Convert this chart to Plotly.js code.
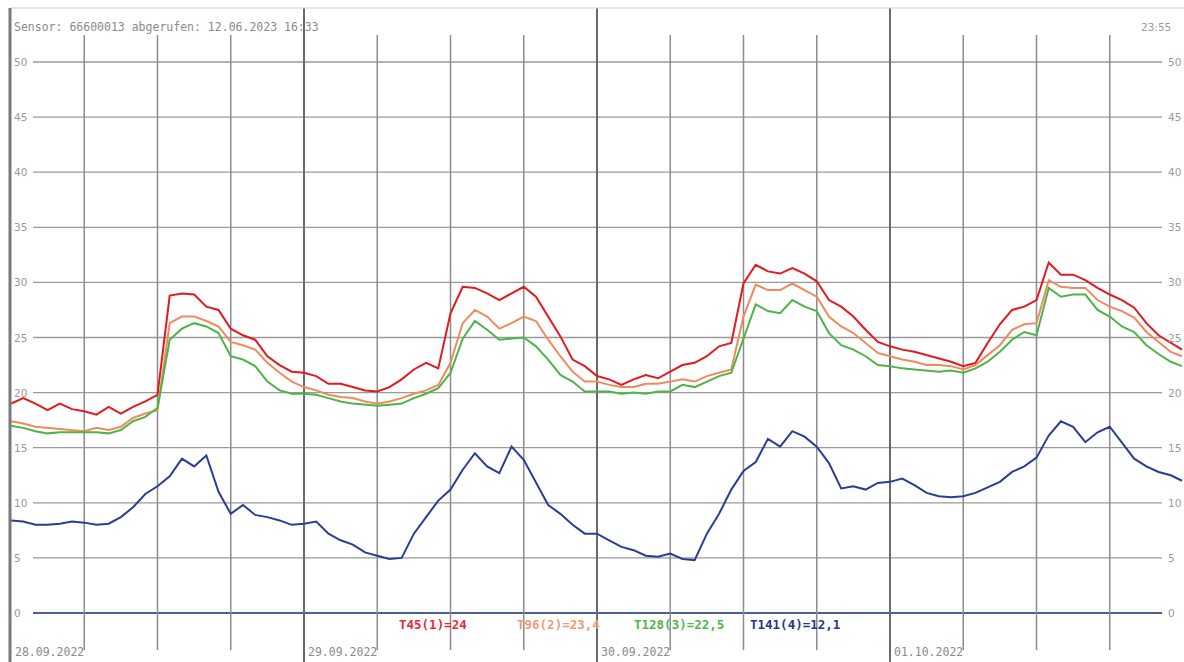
<!DOCTYPE html>
<html>
<head>
<meta charset="utf-8">
<script src="https://cdn.plot.ly/plotly-3.0.1.min.js"></script>
<style>
html,body{margin:0;padding:0;background:#fff;}
#chart{width:1184px;height:662px;}
</style>
</head>
<body>
<div id="chart"></div>
<script>
// ---- data (hourly readings, 28.09.2022 00:00 .. 01.10.2022 23:55) ----
const startDate = '2022-09-28 00:00';
const endDate = '2022-10-02 00:00';
const lastTime = '2022-10-01 23:55';

const t45 = [
  19.0,19.5,19.0,18.4,19.0,18.5,18.3,18.0,18.7,18.1,18.7,19.2,19.8,28.8,29.0,28.9,27.8,27.5,25.8,25.2,24.8,23.3,22.5,21.9,
  21.8,21.5,20.8,20.8,20.5,20.2,20.1,20.5,21.2,22.1,22.7,22.2,27.2,29.6,29.5,29.0,28.4,29.0,29.6,28.7,26.9,25.1,23.0,22.4,
  21.5,21.2,20.7,21.2,21.6,21.3,21.9,22.5,22.7,23.3,24.2,24.5,29.9,31.6,31.0,30.8,31.3,30.8,30.1,28.4,27.8,26.9,25.7,24.6,
  24.2,23.9,23.7,23.4,23.1,22.8,22.4,22.7,24.5,26.2,27.5,27.8,28.4,31.8,30.7,30.7,30.2,29.5,28.9,28.4,27.7,26.3,25.2,24.5,
  23.9
];
const t96 = [
  17.4,17.2,16.9,16.8,16.7,16.6,16.5,16.8,16.6,16.9,17.7,18.1,18.4,26.3,26.9,26.9,26.5,26.0,24.6,24.3,23.9,22.7,21.8,21.0,
  20.5,20.2,19.8,19.6,19.5,19.2,19.0,19.2,19.5,19.9,20.2,20.7,22.7,26.3,27.5,26.9,25.8,26.3,26.9,26.5,24.8,23.3,21.9,21.0,
  21.0,20.7,20.5,20.5,20.8,20.8,21.0,21.2,21.0,21.5,21.8,22.1,26.9,29.8,29.3,29.3,29.9,29.3,28.7,26.9,26.0,25.4,24.5,23.6,
  23.3,23.0,22.8,22.5,22.5,22.4,22.1,22.5,23.4,24.3,25.7,26.2,26.3,30.2,29.6,29.5,29.5,28.4,27.8,27.4,26.8,25.5,24.6,23.7,
  23.3
];
const t128 = [
  17.0,16.8,16.5,16.3,16.4,16.4,16.4,16.4,16.3,16.6,17.4,17.8,18.6,24.8,25.8,26.3,26.0,25.4,23.3,23.0,22.4,21.0,20.2,19.9,
  19.9,19.8,19.5,19.2,19.0,18.9,18.8,18.9,19.0,19.5,19.9,20.4,21.8,24.9,26.5,25.7,24.8,24.9,25.0,24.2,23.0,21.6,21.0,20.1,
  20.1,20.1,19.9,20.0,19.9,20.1,20.1,20.7,20.5,21.0,21.5,21.8,24.9,28.0,27.4,27.2,28.4,27.8,27.4,25.4,24.3,23.9,23.3,22.5,
  22.4,22.2,22.1,22.0,21.9,22.0,21.8,22.2,22.8,23.7,24.8,25.5,25.2,29.5,28.7,28.9,28.9,27.5,26.9,26.0,25.5,24.3,23.5,22.8,
  22.4
];
const t141 = [
  8.4,8.3,8.0,8.0,8.1,8.3,8.2,8.0,8.1,8.7,9.6,10.8,11.5,12.4,14.0,13.3,14.3,11.0,9.0,9.8,8.9,8.7,8.4,8.0,
  8.1,8.3,7.2,6.6,6.2,5.5,5.2,4.9,5.0,7.2,8.7,10.2,11.2,13.0,14.5,13.3,12.7,15.1,13.9,11.8,9.8,9.0,8.0,7.2,
  7.2,6.6,6.0,5.7,5.2,5.1,5.4,4.9,4.8,7.2,9.0,11.2,12.9,13.7,15.8,15.1,16.5,16.0,15.1,13.6,11.3,11.5,11.2,11.8,
  11.9,12.2,11.6,10.9,10.6,10.5,10.6,10.9,11.4,11.9,12.8,13.3,14.1,16.1,17.4,16.9,15.5,16.4,16.9,15.5,14.0,13.3,12.8,12.5,
  12.0
];

const seriesNames = ['T45(1)', 'T96(2)', 'T128(3)', 'T141(4)'];
const legendLabels = ['T45(1)=24', 'T96(2)=23,4', 'T128(3)=22,5', 'T141(4)=12,1'];
const yTicks = [0,5,10,15,20,25,30,35,40,45,50];
const dayLabels = ['28.09.2022','29.09.2022','30.09.2022','01.10.2022'];
const headerText = 'Sensor: 66600013 abgerufen: 12.06.2023 16:33';
const endLabel = '23:55';

// ---- styles ----
const lineColors = ['#e3191f', '#f08a5d', '#4cb548', '#2a3d94'];
const textColors = ['#e8283a', '#f29a72', '#4fb84a', '#26358a'];

// ---- build times ----
function fmt(d){ return d.toISOString().slice(0,16).replace('T',' '); }
const t0 = new Date(Date.UTC(2022,8,28,0,0));
const times = [];
for (let i = 0; i < t45.length - 1; i++) times.push(fmt(new Date(t0.getTime() + i*3600000)));
times.push(lastTime);

const values = [t45, t96, t128, t141];
const traces = values.map((v,i) => ({
  x: times, y: v, type: 'scatter', mode: 'lines', name: seriesNames[i],
  line: {color: lineColors[i], width: 2}, hoverinfo: 'skip'
}));

// ---- geometry helpers (paper fractions) ----
const W = 1184, H = 662, ML = 11, MR = 1, MT = 8, MB = 0;
const PW = W - ML - MR, PH = H - MT - MB;
const px = x => (x - ML) / PW;
const py = y => (H - MB - y) / PH;

const shapes = [];
// horizontal grid
yTicks.forEach(v => {
  shapes.push({type:'line', xref:'paper', yref:'y', x0:px(33), x1:px(1162), y0:v, y1:v,
    line:{color: v === 0 ? '#4d5f8c' : '#9a9a9a', width: v === 0 ? 2 : 1.3}, layer:'below'});
});
// vertical 6h lines and day lines
for (let d = 0; d < 4; d++) {
  for (let q = 1; q < 4; q++) {
    const tm = fmt(new Date(t0.getTime() + (d*24 + q*6)*3600000));
    shapes.push({type:'line', xref:'x', yref:'paper', x0:tm, x1:tm, y0:py(650), y1:py(35),
      line:{color:'#8c8c8c', width:1.5}, layer:'below'});
  }
  if (d > 0) {
    const tm = fmt(new Date(t0.getTime() + d*24*3600000));
    shapes.push({type:'line', xref:'x', yref:'paper', x0:tm, x1:tm, y0:0, y1:1,
      line:{color:'#6a6a6a', width:2}, layer:'below'});
  }
}
// frame: top light line and left dark border
shapes.push({type:'line', xref:'paper', yref:'paper', x0:px(10), x1:px(1184), y0:py(8), y1:py(8),
  line:{color:'#cfcfcf', width:1}, layer:'below'});
shapes.push({type:'line', xref:'paper', yref:'paper', x0:px(10), x1:px(10), y0:0, y1:py(8),
  line:{color:'#7a7a7a', width:3}, layer:'above'});

const annotations = [];
const mono = 'DejaVu Sans Mono, monospace';
yTicks.forEach(v => {
  annotations.push({xref:'paper', yref:'y', x:px(12), y:v, text:String(v), showarrow:false,
    xanchor:'left', yanchor:'middle', font:{family:'DejaVu Sans, sans-serif', size:10.5, color:'#9a9a9a'}, bgcolor:'rgba(255,255,255,0)'});
  annotations.push({xref:'paper', yref:'y', x:px(1166), y:v, text:String(v), showarrow:false,
    xanchor:'left', yanchor:'middle', font:{family:'DejaVu Sans, sans-serif', size:10.5, color:'#9a9a9a'}});
});
dayLabels.forEach((lab, d) => {
  const tm = fmt(new Date(t0.getTime() + d*24*3600000));
  annotations.push({xref:'x', yref:'paper', x:tm, y:py(652), text:lab, showarrow:false,
    xanchor:'left', yanchor:'middle', xshift: 2, font:{family:mono, size:11.5, color:'#8a8a8a'}});
});
annotations.push({xref:'paper', yref:'paper', x:px(12), y:py(27), text:headerText, showarrow:false,
  xanchor:'left', yanchor:'middle', font:{family:mono, size:11.5, color:'#8a8a8a'}});
annotations.push({xref:'paper', yref:'paper', x:px(1173), y:py(27), text:endLabel, showarrow:false,
  xanchor:'right', yanchor:'middle', font:{family:'DejaVu Sans, sans-serif', size:10.5, color:'#9a9a9a'}});
const legendX = [397, 515, 632, 748];
legendLabels.forEach((lab, i) => {
  annotations.push({xref:'paper', yref:'paper', x:px(legendX[i]), y:py(624), text:'<b>'+lab+'</b>', showarrow:false,
    xanchor:'left', yanchor:'middle', font:{family:mono, size:12.5, color:textColors[i]}});
});

const layout = {
  width: W, height: H,
  margin: {l: ML, r: MR, t: MT, b: MB, pad: 0},
  paper_bgcolor: '#ffffff', plot_bgcolor: '#ffffff',
  showlegend: false,
  xaxis: {type:'date', range:[startDate, endDate], visible:false, fixedrange:true},
  yaxis: {range:[-(H - MB - 613)/11.02, (613 - MT)/11.02], visible:false, fixedrange:true},
  shapes: shapes,
  annotations: annotations
};

Plotly.newPlot('chart', traces, layout, {displayModeBar:false, staticPlot:true});
</script>
</body>
</html>
